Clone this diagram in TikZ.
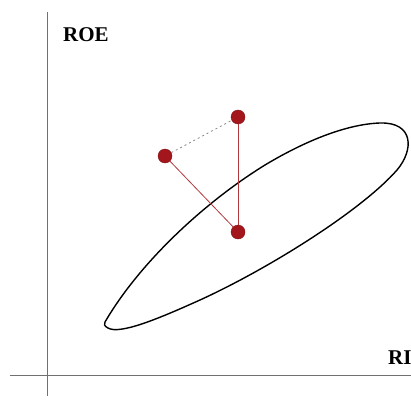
\documentclass[tikz,border=0pt]{standalone}
\usepackage{fontspec}
\setmainfont{Liberation Serif}
\usetikzlibrary{positioning}
\definecolor{axisColor}{HTML}{707070}
\definecolor{dotRed}{HTML}{A3161B}
\definecolor{lineRed}{HTML}{B2383C}
\definecolor{dashGray}{HTML}{8A8A8A}
\tikzset{
  axis/.style={draw=axisColor, line width=0.9pt},
  axislabel/.style={font=\fontsize{21}{21}\selectfont\bfseries, text=black, inner sep=0pt},
  firm/.style={circle, fill=dotRed, draw=dotRed!80!black, line width=0.4pt, minimum size=14pt, inner sep=0pt},
  link/.style={draw=lineRed, line width=0.8pt},
  gaplink/.style={draw=dashGray, line width=0.8pt, dash pattern=on 2pt off 3pt},
  frontier/.style={draw=black, line width=1.4pt},
}
\begin{document}
\begin{tikzpicture}[x=1pt, y=-1pt]
  \useasboundingbox (0,0) rectangle (411,401);
  \clip (0,0) rectangle (411,401);

  % === Axes ===
  \coordinate (ytop) at (47,12);
  \coordinate (ybot) at (47,396);
  \coordinate (xleft) at (10,375);
  \coordinate (xright) at (411,375);
  \draw[axis] (ybot) -- (ytop);
  \draw[axis] (xleft) -- (xright);
  \node[axislabel, anchor=west] (roe) at (63,35) {ROE};
  \node[axislabel, anchor=west] (ri) at (388,358) {RI};

  % === Frontier ===
  \draw[frontier] (105,322) .. controls (140,262) and (205,202) .. (265,165)
    .. controls (310,138) and (350,124) .. (380,123)
    .. controls (414,122) and (414,150) .. (397,170)
    .. controls (362,210) and (270,268) .. (200,300)
    .. controls (160,318) and (120,335) .. (108,328)
    .. controls (104,326) and (104,324) .. (105,322) -- cycle;

  % === Firms ===
  \node[firm] (p1) at (165,156) {};
  \node[firm] (p2) at (238,117) {};
  \node[firm] (p3) at (238,232) {};

  % === Connections ===
  \draw[gaplink] (p1) -- (p2);
  \draw[link] (p1) -- (p3);
  \draw[link] (p2) -- (p3);

\end{tikzpicture}
\end{document}
